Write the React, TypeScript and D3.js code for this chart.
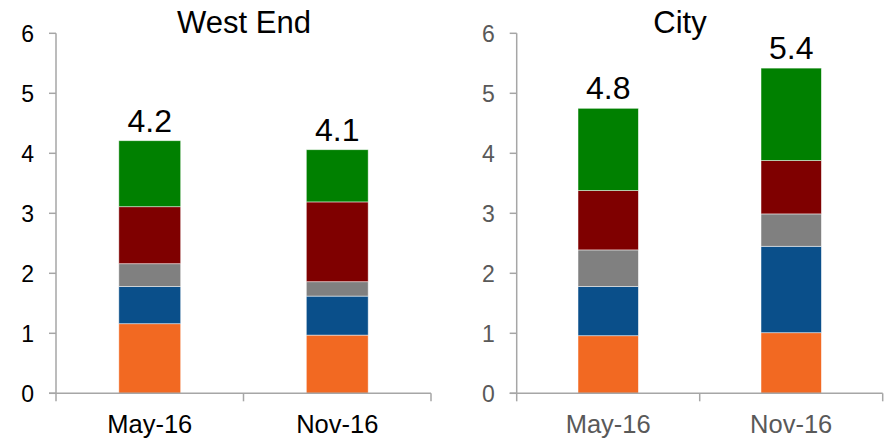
import React from "react";
import * as d3 from "d3";

const categories = ["May-16", "Nov-16"];
const seriesKeys = ["s1", "s2", "s3", "s4", "s5"];
const seriesColors = ["#F26922", "#0A4F8A", "#808080", "#7F0000", "#008000"];

const panelTitles = ["West End", "City"];
// values per panel, per category, per series (bottom to top)
const westEndMay = [1.16, 0.62, 0.38, 0.95, 1.1];
const westEndNov = [0.97, 0.65, 0.24, 1.33, 0.87];
const cityMay = [0.96, 0.82, 0.61, 0.99, 1.37];
const cityNov = [1.01, 1.44, 0.54, 0.89, 1.54];
const totalLabels = [["4.2", "4.1"], ["4.8", "5.4"]];
const yTicks = [0, 1, 2, 3, 4, 5, 6];

const panelData = [
  [westEndMay, westEndNov],
  [cityMay, cityNov],
];

const W = 885;
const H = 439;
const yScale = d3.scaleLinear().domain([0, 6]).range([393.3, 33.3]);

const panels = [
  { x0: 56, x1: 431, textColor: "#000000", titleX: 244 },
  { x0: 516.7, x1: 882.7, textColor: "#595959", titleX: 680 },
];

const FONT = "'Liberation Sans', Arial, sans-serif";

function Panel({ idx }: { idx: number }) {
  const p = panels[idx];
  const x = d3
    .scaleBand<string>()
    .domain(categories)
    .range([p.x0, p.x1])
    .paddingInner(0.67)
    .paddingOuter(0.335);
  const step = x.step();
  const rows = categories.map((c, i) => {
    const row: any = { cat: c };
    seriesKeys.forEach((k, j) => (row[k] = panelData[idx][i][j]));
    return row;
  });
  const stacked = d3.stack<any>().keys(seriesKeys)(rows);
  const totals = rows.map((r) => seriesKeys.reduce((s, k) => s + r[k], 0));
  const axisColor = "#A6A6A6";
  const boundaries = [p.x0, ...categories.map((c) => (x(c) as number) + x.bandwidth() + (step - x.bandwidth()) / 2)];
  return (
    <g>
      <text x={p.titleX} y={33} textAnchor="middle" fontSize={31} fill="#000" fontFamily={FONT}>
        {panelTitles[idx]}
      </text>
      {stacked.map((layer, li) =>
        layer.map((d, ci) => (
          <rect
            key={`${li}-${ci}`}
            x={x(categories[ci])}
            width={x.bandwidth()}
            y={yScale(d[1])}
            height={yScale(d[0]) - yScale(d[1])}
            fill={seriesColors[li]}
            stroke="#ffffff"
            strokeOpacity={0.6}
            strokeWidth={0.8}
          />
        ))
      )}
      {categories.map((c, ci) => (
        <text
          key={c}
          x={(x(c) as number) + x.bandwidth() / 2}
          y={yScale(totals[ci]) - 9}
          textAnchor="middle"
          fontSize={32}
          fill="#000"
          fontFamily={FONT}
        >
          {totalLabels[idx][ci]}
        </text>
      ))}
      <line x1={p.x0} x2={p.x0} y1={yScale(6)} y2={yScale(0)} stroke={axisColor} strokeWidth={1.5} />
      {yTicks.map((t) => (
        <g key={t}>
          <line x1={p.x0 - 7} x2={p.x0} y1={yScale(t)} y2={yScale(t)} stroke={axisColor} strokeWidth={1.5} />
          <text
            x={p.x0 - 22}
            y={yScale(t)}
            dy="0.36em"
            textAnchor="end"
            fontSize={23}
            fill={p.textColor}
            fontFamily={FONT}
          >
            {t}
          </text>
        </g>
      ))}
      <line x1={p.x0 - 7} x2={p.x1} y1={yScale(0)} y2={yScale(0)} stroke={axisColor} strokeWidth={1.5} />
      {boundaries.map((bx, i) => (
        <line key={i} x1={bx} x2={bx} y1={yScale(0)} y2={yScale(0) + 8} stroke={axisColor} strokeWidth={1.5} />
      ))}
      {categories.map((c) => (
        <text
          key={c}
          x={(x(c) as number) + x.bandwidth() / 2}
          y={433}
          textAnchor="middle"
          fontSize={25.5}
          fill={p.textColor}
          fontFamily={FONT}
        >
          {c}
        </text>
      ))}
    </g>
  );
}

export default function App() {
  return (
    <svg
      width={W}
      height={H}
      viewBox={`0 0 ${W} ${H}`}
      style={{ position: "absolute", left: 0, top: 0, display: "block", background: "#fff" }}
    >
      <rect x={0} y={0} width={W} height={H} fill="#fff" />
      <Panel idx={0} />
      <Panel idx={1} />
    </svg>
  );
}
